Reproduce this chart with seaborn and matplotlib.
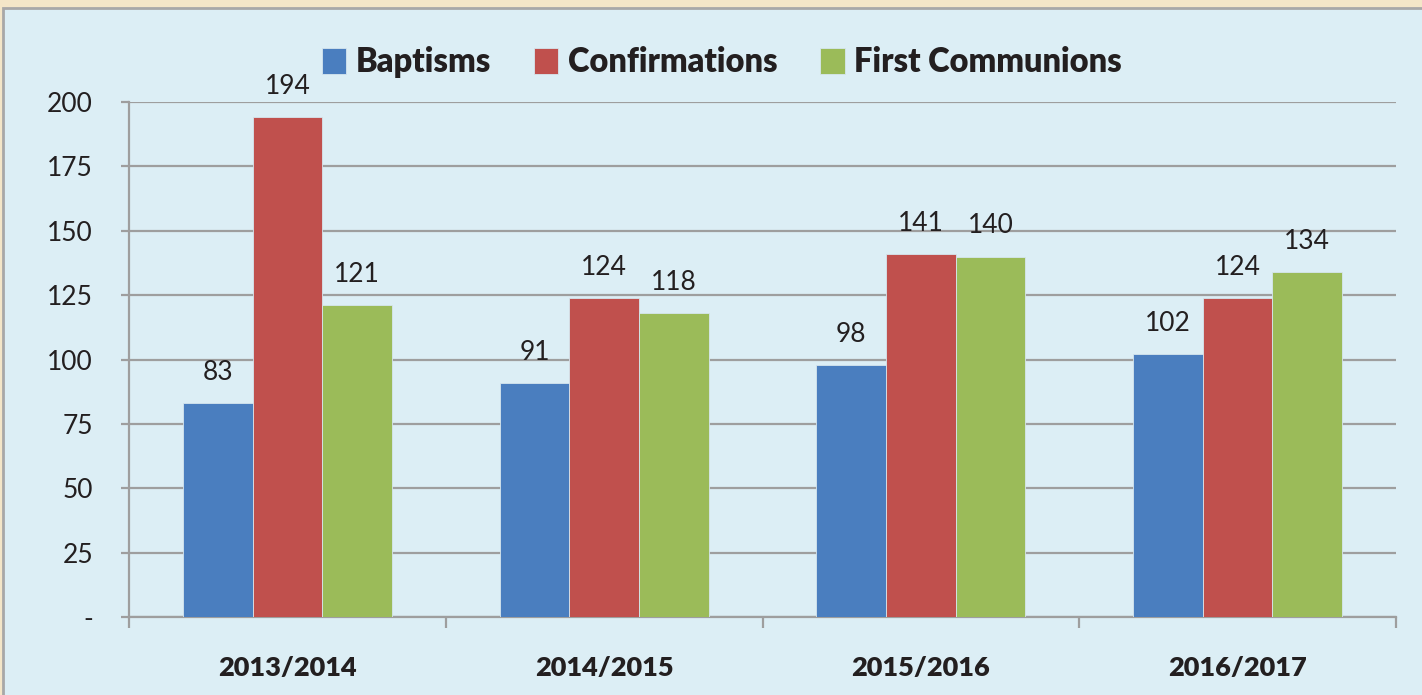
import numpy as np
import pandas as pd
import matplotlib
matplotlib.use('Agg')
import matplotlib.pyplot as plt
from matplotlib.patches import Rectangle
import seaborn as sns

# data
years = ['2013/2014', '2014/2015', '2015/2016', '2016/2017']
series_names = ['Baptisms', 'Confirmations', 'First Communions']
baptisms = [83, 91, 98, 102]
confirmations = [194, 124, 141, 124]
first_communions = [121, 118, 140, 134]
yticks = [0, 25, 50, 75, 100, 125, 150, 175, 200]
ytick_labels = ['-', '25', '50', '75', '100', '125', '150', '175', '200']

colors = ['#4A7EBF', '#C0504D', '#9BBB59']
panel_bg = '#DCEEF5'
grid_col = '#9E9E9E'
text_col = '#231F20'

df = pd.DataFrame({
    'year': years * 3,
    'series': [s for s in series_names for _ in years],
    'value': baptisms + confirmations + first_communions,
})

sns.set_style('white')
plt.rcParams['font.family'] = ['Lato', 'DejaVu Sans']

fig = plt.figure(figsize=(14.22, 6.95), dpi=100, facecolor='#F4E6C8')
# light blue panel with grey border (behind the axes)
fig.patches.append(Rectangle((0.0018, -0.02), 1.2, 1 - 8 / 695 + 0.02,
                             transform=fig.transFigure, facecolor=panel_bg,
                             edgecolor='#A8A8A8', lw=2, zorder=-5))

ax = fig.add_axes([129 / 1422, 1 - 617 / 695, (1396 - 129) / 1422, (617 - 102) / 695])
ax.set_facecolor('none')

sns.barplot(data=df, x='year', y='value', hue='series', palette=colors,
            hue_order=series_names, order=years, width=0.66, gap=0,
            saturation=1, ax=ax, edgecolor='#D6E6EE', linewidth=0.6, zorder=3)

for cont in ax.containers:
    ax.bar_label(cont, padding=13, fontsize=19, color=text_col)

ax.set_ylim(0, 200)
ax.set_xlim(-0.5, 3.5)
ax.set_yticks(yticks)
ax.set_yticklabels(ytick_labels, fontsize=19, color=text_col)
ax.tick_params(axis='y', length=6, width=1.6, color=grid_col, pad=20, left=True)
ax.yaxis.grid(True, color=grid_col, lw=1.6, zorder=0)
ax.set_axisbelow(True)

ax.set_xticks(range(len(years)))
ax.set_xticklabels(years, fontsize=19.5, fontweight='heavy', color=text_col)
ax.set_xticks(np.arange(-0.5, len(years), 1), minor=True)
ax.tick_params(axis='x', which='major', length=0, pad=28)
ax.tick_params(axis='x', which='minor', length=8, width=1.6, color=grid_col, bottom=True)
ax.set_xlabel('')
ax.set_ylabel('')

for s in ['top', 'right']:
    ax.spines[s].set_visible(False)
for s in ['left', 'bottom']:
    ax.spines[s].set_color(grid_col)
    ax.spines[s].set_linewidth(1.6)

handles, labels = ax.get_legend_handles_labels()
ax.legend(handles, labels, loc='center', bbox_to_anchor=(722 / 1422, 1 - 62 / 695),
          bbox_transform=fig.transFigure, ncol=3, frameon=False, labelcolor=text_col,
          prop={'size': 23.5, 'weight': 'heavy'}, handlelength=0.75, handleheight=0.85,
          handletextpad=0.3, columnspacing=1.3)

fig.savefig('out.png', dpi=100, facecolor=fig.get_facecolor())
